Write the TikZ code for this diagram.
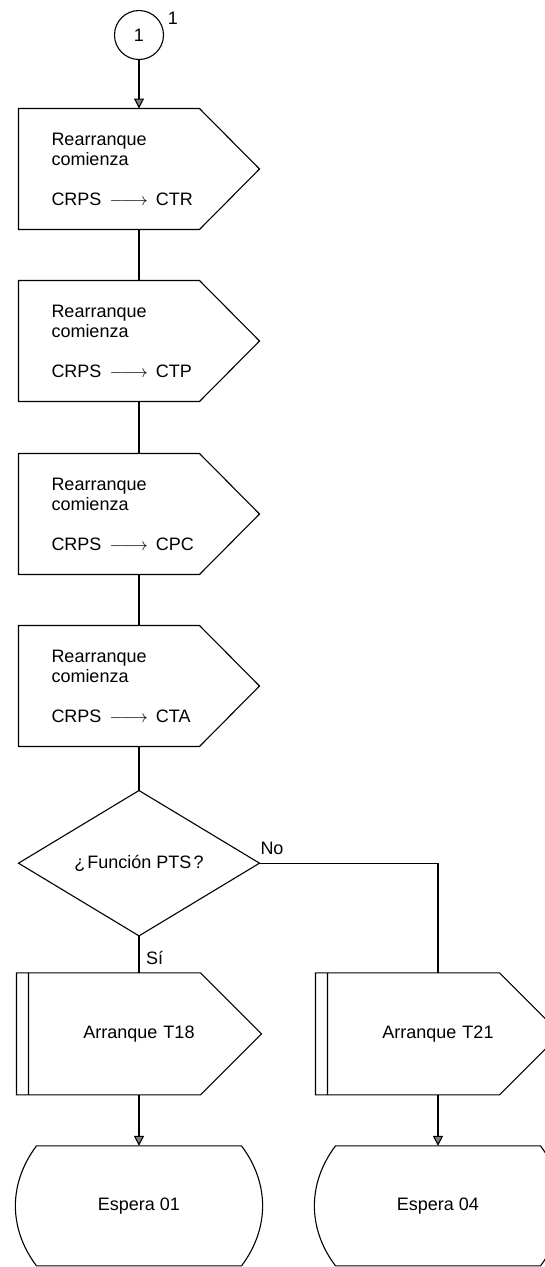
\documentclass[tikz,border=0pt]{standalone}
\usepackage{fontspec}
\setmainfont{Liberation Sans}
\usetikzlibrary{arrows.meta,positioning,shapes.geometric}
\newcommand{\crpsarrow}{\hspace{8pt}$\relbar\joinrel\longrightarrow$\hspace{8pt}}

\begin{document}
\begin{tikzpicture}[
  x=1pt,y=1pt,
  node distance=51pt,
  font=\fontsize{18}{20}\selectfont,
  every node/.append style={outer sep=0pt},
  conn/.style={draw,circle,line width=1.1pt,minimum size=49pt,inner sep=0pt},
  sbox/.style={rectangle,minimum width=241pt,minimum height=121pt,inner sep=0pt,text width=175pt,align=left,
    append after command={\pgfextra{\draw[line width=1.1pt,line join=miter]
      (\tikzlastnode.north west) -- ([xshift=-60pt]\tikzlastnode.north east) -- (\tikzlastnode.east)
      -- ([xshift=-60pt]\tikzlastnode.south east) -- (\tikzlastnode.south west) -- cycle;}}},
  tbox/.style={rectangle,minimum width=245pt,minimum height=122pt,inner sep=0pt,text width=150pt,align=center,
    append after command={\pgfextra{\draw[line width=1.1pt,line join=miter]
      (\tikzlastnode.north west) -- ([xshift=-61pt]\tikzlastnode.north east) -- (\tikzlastnode.east)
      -- ([xshift=-61pt]\tikzlastnode.south east) -- (\tikzlastnode.south west) -- cycle
      ([xshift=12pt]\tikzlastnode.north west) -- ([xshift=12pt]\tikzlastnode.south west);}}},
  decision/.style={draw,diamond,line width=1.1pt,minimum width=241pt,minimum height=138pt,inner sep=0pt},
  waitbox/.style={rectangle,minimum width=205pt,minimum height=120pt,inner sep=0pt,
    append after command={\pgfextra{\draw[line width=1.1pt]
      (\tikzlastnode.north west) -- (\tikzlastnode.north east) to[bend left=37] (\tikzlastnode.south east)
      -- (\tikzlastnode.south west) to[bend left=37] (\tikzlastnode.north west) -- cycle;}}},
  link/.style={line width=1.1pt},
  arr/.style={line width=1.1pt,-{Triangle[length=10pt,width=10pt,fill=gray]}}
]
  \useasboundingbox (0,0) rectangle (545,-1267);
  \node[conn] (c1) at (139,-35) {1};
  \node (c1num) at ([xshift=34pt,yshift=17pt]c1.center) {1};
  \node[sbox,below=49pt of c1] (ctr) {Rearranque\\comienza\\[20pt]CRPS\crpsarrow CTR};
  \node[sbox,below=51pt of ctr] (ctp) {Rearranque\\comienza\\[20pt]CRPS\crpsarrow CTP};
  \node[sbox,below=52pt of ctp] (cpc) {Rearranque\\comienza\\[20pt]CRPS\crpsarrow CPC};
  \node[sbox,below=51pt of cpc] (cta) {Rearranque\\comienza\\[20pt]CRPS\crpsarrow CTA};
  \node[decision,below=44pt of cta] (pts) {¿\kern2pt Función PTS\kern2pt ?};
  \node[tbox,below=37pt of pts] (t18) {Arranque T18};
  \node[tbox,right=54pt of t18] (t21) {Arranque T21};
  \node[waitbox,below=51pt of t18] (w01) {Espera 01};
  \node[waitbox,below=51pt of t21] (w04) {Espera 04};
  % connectors
  \draw[arr] (c1) -- (ctr);
  \draw[link] (ctr) -- (ctp);
  \draw[link] (ctp) -- (cpc);
  \draw[link] (cpc) -- (cta);
  \draw[link] (cta) -- (pts);
  \draw[link] (pts.south) -- (pts.south |- t18.north);
  \draw[link] (pts.east) -| (t21.north);
  \draw[arr] (t18) -- (w01);
  \draw[arr] (t21) -- (w04);
  \node[anchor=south west,inner sep=1pt] (nolab) at ([yshift=8pt]pts.east) {No};
  \node[anchor=west,inner sep=1pt] (silab) at ([xshift=6pt,yshift=-22pt]pts.south) {Sí};
\end{tikzpicture}
\end{document}
